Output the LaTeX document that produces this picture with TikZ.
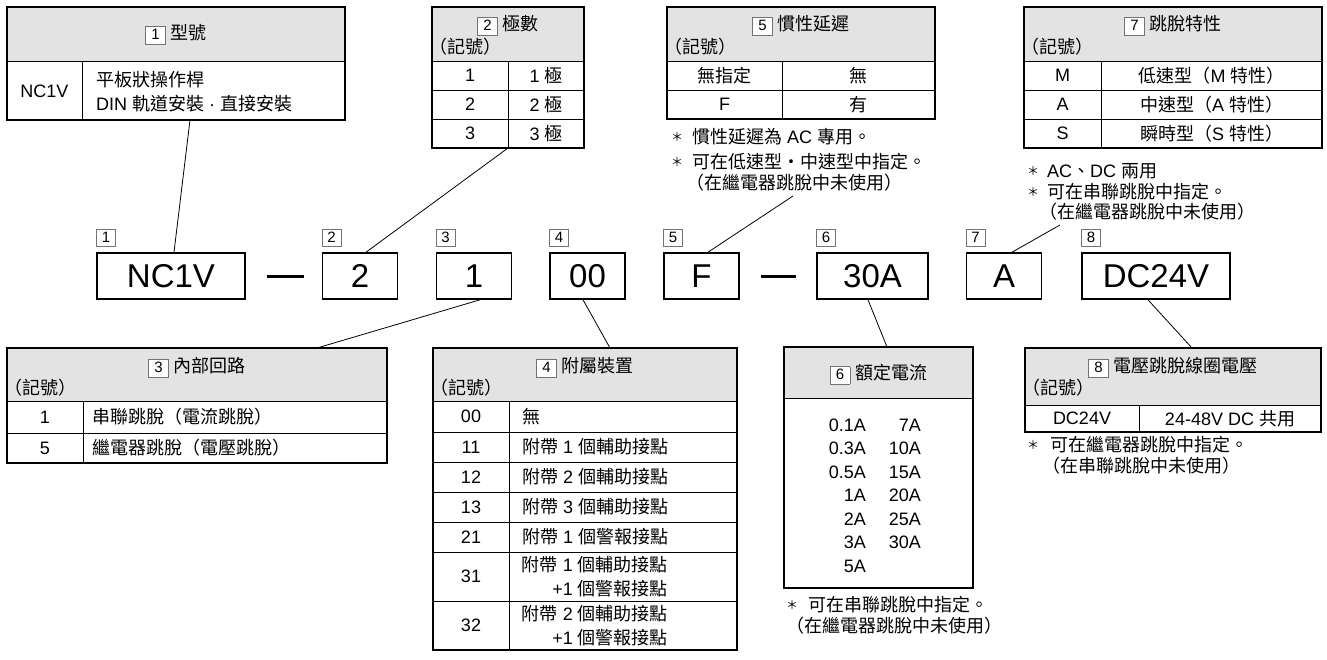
\documentclass[tikz,border=0pt]{standalone}
\usepackage{fontspec}
\setmainfont{Liberation Sans}
\newfontfamily\cjkfont{Noto Sans CJK TC}
% CJK characters switch to the CJK font by themselves
\newXeTeXintercharclass\cjkclass
\newcount\chcount
\chcount="2E80
\loop\XeTeXcharclass\chcount=\cjkclass\advance\chcount by 1 \ifnum\chcount<"A000 \repeat
\chcount="FF00
\loop\XeTeXcharclass\chcount=\cjkclass\advance\chcount by 1 \ifnum\chcount<"FFF0 \repeat
\XeTeXinterchartoks 0 \cjkclass = {\begingroup\cjkfont}
\XeTeXinterchartoks 4095 \cjkclass = {\begingroup\cjkfont}
\XeTeXinterchartoks \cjkclass 0 = {\endgroup}
\XeTeXinterchartoks \cjkclass 4095 = {\endgroup}
\XeTeXinterchartokenstate=1
\setlength{\fboxsep}{1.5pt}
\setlength{\fboxrule}{0.6pt}
\newcommand{\sqnum}[1]{\fcolorbox{black!55}{white}{\makebox[16pt]{\rule[-3pt]{0pt}{13.5pt}\fontsize{15}{15}\selectfont #1}}}
\newcommand{\kigo}{\hspace*{-3pt}（記號）}
\tikzset{
  tblframe/.style={line width=2.6pt},
  tblrule/.style={line width=0.9pt},
  txt/.style={inner sep=0pt, font=\fontsize{18}{23.5}\selectfont},
  star/.style={inner sep=0pt, font=\fontsize{12}{12}\selectfont},
  codebox/.style={draw, line width=1.6pt, minimum width=75pt, minimum height=46pt, inner sep=0pt, font=\fontsize{33}{33}\selectfont},
  numbox/.style={draw=black!55, line width=0.6pt, minimum width=19pt, minimum height=17pt, inner sep=0pt, font=\fontsize{15}{15}\selectfont},
  lnk/.style={line width=0.8pt},
}
\begin{document}
\begin{tikzpicture}[x=1pt,y=-1pt,line join=miter]
\useasboundingbox[fill=white] (0,0) rectangle (1327,659);

% --- table 1
\fill[black!11] (7,7) rectangle (345,61);
\draw[tblrule] (7,61) -- (345,61) (82,61) -- (82,120);
\draw[tblframe] (7,7) rectangle (345,120);
\node[txt] (h1) at (176,34) {\sqnum{1} 型號};
\node[txt] (r1a) at (44.5,91) {NC1V};
\node[txt,align=left,anchor=west] (r1b) at (96,91.5) {平板狀操作桿\\DIN 軌道安裝 · 直接安裝};
\coordinate (t1) at (190,120);

% --- table 2
\fill[black!11] (432,7) rectangle (584,61);
\draw[tblrule] (432,61) -- (584,61) (432,90) -- (584,90) (432,119) -- (584,119) (508,61) -- (508,148);
\draw[tblframe] (432,7) rectangle (584,148);
\node[txt] (h2) at (508,25) {\sqnum{2} 極數};
\node[txt,anchor=west] (k2) at (432,47) {\kigo};
\foreach \y/\a/\b in {75.5/1/1 極,104.5/2/2 極,133.5/3/3 極}{
  \node[txt] at (470,\y) {\a};
  \node[txt] at (546,\y) {\b};
}
\coordinate (t2) at (508,148);

% --- table 5
\fill[black!11] (667,7) rectangle (935,61);
\draw[tblrule] (667,61) -- (935,61) (667,90) -- (935,90) (782,61) -- (782,119);
\draw[tblframe] (667,7) rectangle (935,119);
\node[txt] (h5) at (801,25) {\sqnum{5} 慣性延遲};
\node[txt,anchor=west] (k5) at (667,47) {\kigo};
\node[txt] at (724.5,75.5) {無指定};
\node[txt] at (858.5,75.5) {無};
\node[txt] at (724.5,104.5) {F};
\node[txt] at (858.5,104.5) {有};
\node[star] at (677,137) {＊};
\node[txt,anchor=west] at (692,137) {慣性延遲為 AC 專用。};
\node[star] at (677,162) {＊};
\node[txt,anchor=west] at (692,162) {可在低速型・中速型中指定。};
\node[txt,anchor=west] (n5) at (686,183) {（在繼電器跳脫中未使用）};
\coordinate (t5) at (793,196);

% --- table 7
\fill[black!11] (1024,7) rectangle (1322,61);
\draw[tblrule] (1024,61) -- (1322,61) (1024,90) -- (1322,90) (1024,119) -- (1322,119) (1101,61) -- (1101,148);
\draw[tblframe] (1024,7) rectangle (1322,148);
\node[txt] (h7) at (1173,25) {\sqnum{7} 跳脫特性};
\node[txt,anchor=west] (k7) at (1024,47) {\kigo};
\foreach \y/\a/\b in {75.5/M/低速型（M 特性）,104.5/A/中速型（A 特性）,133.5/S/瞬時型（S 特性）}{
  \node[txt] at (1062.5,\y) {\a};
  \node[txt] at (1211.5,\y) {\b};
}
\node[star] at (1033,171) {＊};
\node[txt,anchor=west] at (1047,171) {AC、DC 兩用};
\node[star] at (1033,192) {＊};
\node[txt,anchor=west] at (1047,192) {可在串聯跳脫中指定。};
\node[txt,anchor=west] (n7) at (1039,212) {（在繼電器跳脫中未使用）};
\coordinate (t7) at (1060,225);

% --- code row
\node[codebox,minimum width=148pt] (b1) at (171,276) {NC1V};
\node[codebox] (b2) at (360,276) {2};
\node[codebox] (b3) at (474,276) {1};
\node[codebox] (b4) at (587.5,276) {00};
\node[codebox] (b5) at (701.5,276) {F};
\node[codebox,minimum width=111pt] (b6) at (872.5,276) {30A};
\node[codebox] (b7) at (1004,276) {A};
\node[codebox,minimum width=148pt] (b8) at (1156,276) {DC24V};
\foreach \i in {1,...,8}
  \node[numbox,anchor=south west] (l\i) at ([yshift=6pt]b\i.north west) {\i};
\draw[line width=3pt] ([xshift=21pt]b1.east) -- ([xshift=-18pt]b2.west);
\draw[line width=3pt] ([xshift=21pt]b5.east) -- ([xshift=-20pt]b6.west);

% --- table 3
\fill[black!11] (7,348) rectangle (387,401);
\draw[tblrule] (7,401) -- (387,401) (7,433) -- (387,433) (83,401) -- (83,463);
\draw[tblframe] (7,348) rectangle (387,463);
\node[txt] (h3) at (197,367) {\sqnum{3} 內部回路};
\node[txt,anchor=west] (k3) at (7,388) {\kigo};
\node[txt] at (45,417) {1};
\node[txt,anchor=west] at (92,417) {串聯跳脫（電流跳脫）};
\node[txt] at (45,448) {5};
\node[txt,anchor=west] at (92,448) {繼電器跳脫（電壓跳脫）};
\coordinate (t3) at (317,348);

% --- table 4
\fill[black!11] (433,348) rectangle (737,401);
\foreach \y in {401,432,462,492,522,552,601}
  \draw[tblrule] (433,\y) -- (737,\y);
\draw[tblrule] (509,401) -- (509,650);
\draw[tblframe] (433,348) rectangle (737,650);
\node[txt] (h4) at (585,367) {\sqnum{4} 附屬裝置};
\node[txt,anchor=west] (k4) at (433,388) {\kigo};
\foreach \y/\a/\b in {416.5/00/無,447/11/附帶 1 個輔助接點,477/12/附帶 2 個輔助接點,507/13/附帶 3 個輔助接點,537/21/附帶 1 個警報接點}{
  \node[txt] at (471,\y) {\a};
  \node[txt,anchor=west] at (522,\y) {\b};
}
\node[txt] at (471,576.5) {31};
\node[txt,align=right,anchor=east] at (668,576.5) {附帶 1 個輔助接點\\+1 個警報接點};
\node[txt] at (471,625.5) {32};
\node[txt,align=right,anchor=east] at (668,625.5) {附帶 2 個輔助接點\\+1 個警報接點};
\coordinate (t4) at (610,348);

% --- table 6
\fill[black!11] (784,347) rectangle (973,398);
\draw[tblrule] (784,398) -- (973,398);
\draw[tblframe] (784,347) rectangle (973,588);
\node[txt] (h6) at (878.5,374) {\sqnum{6} 額定電流};
\foreach \k/\a/\b in {0/0.1A/7A,1/0.3A/10A,2/0.5A/15A,3/1A/20A,4/2A/25A,5/3A/30A}{
  \node[txt,anchor=east] at (866,{425+23.5*\k}) {\a};
  \node[txt,anchor=east] at (921,{425+23.5*\k}) {\b};
}
\node[txt,anchor=east] at (866,566) {5A};
\node[star] at (792,605) {＊};
\node[txt,anchor=west] at (808,605) {可在串聯跳脫中指定。};
\node[txt,anchor=west] at (786,626) {（在繼電器跳脫中未使用）};
\coordinate (t6) at (887,347);

% --- table 8
\fill[black!11] (1025,348) rectangle (1321,405);
\draw[tblrule] (1025,405) -- (1321,405) (1139,405) -- (1139,432);
\draw[tblframe] (1025,348) rectangle (1321,432);
\node[txt] (h8) at (1173,367) {\sqnum{8} 電壓跳脫線圈電壓};
\node[txt,anchor=west] (k8) at (1025,388) {\kigo};
\node[txt] at (1082,418.5) {DC24V};
\node[txt] at (1230,418.5) {24-48V DC 共用};
\node[star] at (1033,445) {＊};
\node[txt,anchor=west] at (1050,445) {可在繼電器跳脫中指定。};
\node[txt,anchor=west] at (1042,466) {（在串聯跳脫中未使用）};
\coordinate (t8) at (1192,348);

% --- connectors
\draw[lnk] (t1) -- ([xshift=3pt]b1.north);
\draw[lnk] (t2) -- ([xshift=6pt]b2.north);
\draw[lnk] ([xshift=6pt]b3.south) -- (t3);
\draw[lnk] ([xshift=-4.5pt]b4.south) -- (t4);
\draw[lnk] (t5) -- ([xshift=6.5pt]b5.north);
\draw[lnk] ([xshift=-4.5pt]b6.south) -- (t6);
\draw[lnk] (t7) -- ([xshift=8pt]b7.north);
\draw[lnk] ([xshift=-8pt]b8.south) -- (t8);
\end{tikzpicture}
\end{document}
